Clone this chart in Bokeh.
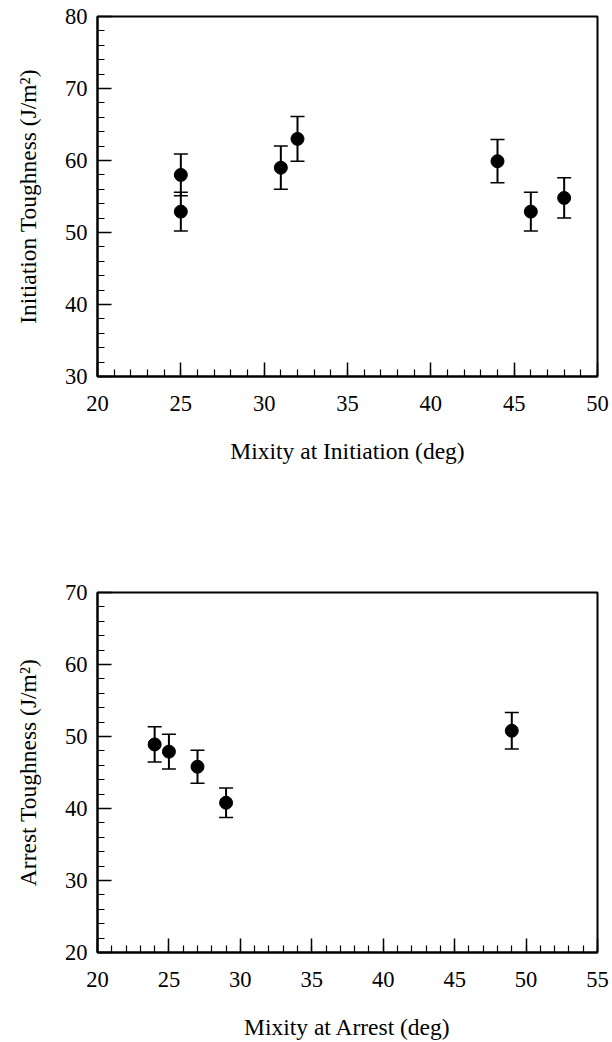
from bokeh.plotting import figure
from bokeh.models import Range1d, SingleIntervalTicker, Whisker, ColumnDataSource, TeeHead
from bokeh.layouts import column
from bokeh.embed import file_html
from bokeh.resources import INLINE

# ---- data ----
init_mixity = [25, 25, 31, 32, 44, 46, 48]
init_tough = [58.0, 52.9, 59.0, 63.0, 59.9, 52.9, 54.8]
init_err = [2.9, 2.7, 3.0, 3.1, 3.0, 2.7, 2.8]

arrest_mixity = [24, 25, 27, 29, 49]
arrest_tough = [48.9, 47.9, 45.8, 40.8, 50.8]
arrest_err = [2.45, 2.4, 2.3, 2.05, 2.55]

init_xlim = (20, 50)
init_ylim = (30, 80)
arrest_xlim = (20, 55)
arrest_ylim = (20, 70)

FONT = "Liberation Serif"


def make(x, y, e, xr, yr, xlabel, ylabel, w, h, bl, br, bt, bb):
    p = figure(width=w, height=h, x_range=Range1d(*xr), y_range=Range1d(*yr),
               output_backend="svg", toolbar_location=None,
               min_border_left=bl, min_border_right=br,
               min_border_top=bt, min_border_bottom=bb)
    p.xgrid.grid_line_color = None
    p.ygrid.grid_line_color = None
    p.outline_line_color = "black"
    p.outline_line_width = 2
    p.background_fill_color = "white"
    p.border_fill_color = "white"

    p.xaxis.ticker = SingleIntervalTicker(interval=5, num_minor_ticks=5)
    p.yaxis.ticker = SingleIntervalTicker(interval=10, num_minor_ticks=5)
    for ax in (p.xaxis, p.yaxis):
        ax.axis_line_width = 2
        ax.axis_line_color = "black"
        ax.major_tick_in = 14
        ax.major_tick_out = 0
        ax.minor_tick_in = 7
        ax.minor_tick_out = 0
        ax.major_tick_line_width = 1.5
        ax.minor_tick_line_width = 1.2
        ax.major_tick_line_color = "black"
        ax.minor_tick_line_color = "black"
        ax.major_label_text_font = FONT
        ax.major_label_text_font_size = "22.5px"
        ax.major_label_text_color = "black"
        ax.axis_label_text_font = FONT
        ax.axis_label_text_font_size = "23.5px"
        ax.axis_label_text_font_style = "normal"
        ax.axis_label_text_color = "black"
    p.xaxis.axis_label = xlabel
    p.yaxis.axis_label = ylabel
    p.xaxis.major_label_standoff = 19
    p.xaxis.axis_label_standoff = 24
    p.yaxis.major_label_standoff = 10
    p.yaxis.axis_label_standoff = 21

    src = ColumnDataSource(dict(
        x=x, y=y,
        upper=[a + b for a, b in zip(y, e)],
        lower=[a - b for a, b in zip(y, e)],
    ))
    wk = Whisker(source=src, base="x", upper="upper", lower="lower",
                 line_color="black", line_width=2,
                 upper_head=TeeHead(size=14, line_color="black", line_width=1.5),
                 lower_head=TeeHead(size=14, line_color="black", line_width=1.5))
    p.add_layout(wk)
    p.scatter("x", "y", source=src, size=13, marker="circle",
              fill_color="black", line_color="black")
    return p


p1 = make(init_mixity, init_tough, init_err, init_xlim, init_ylim,
          "Mixity at Initiation (deg)", "Initiation Toughness (J/m²)",
          w=612, h=520, bl=97, br=13, bt=16, bb=144)
p2 = make(arrest_mixity, arrest_tough, arrest_err, arrest_xlim, arrest_ylim,
          "Mixity at Arrest (deg)", "Arrest Toughness (J/m²)",
          w=612, h=522, bl=94, br=15, bt=72, bb=90)

layout = column(p1, p2, spacing=0)
open("out.html", "w").write(file_html(layout, INLINE))
